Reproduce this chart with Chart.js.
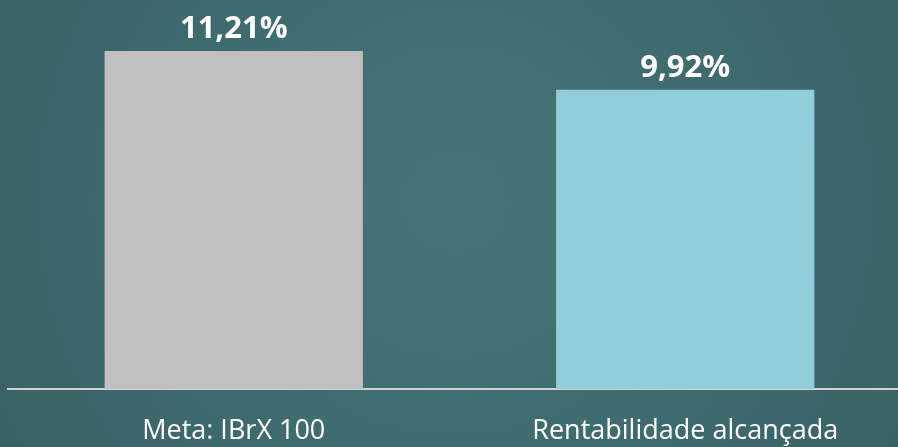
<!DOCTYPE html>
<html>
<head>
<meta charset="utf-8">
<script src="https://cdn.jsdelivr.net/npm/chart.js@4"></script>
<style>
  html, body { margin: 0; padding: 0; overflow: hidden; width: 898px; height: 447px; background: #3d6a6e; }
  #wrap { position: relative; width: 911px; height: 447px; }
</style>
</head>
<body>
<div id="wrap"><canvas id="c" width="911" height="447"></canvas></div>
<script>
const categories = ["Meta: IBrX 100", "Rentabilidade alcançada"];
const values = [11.21, 9.92];
const valueLabels = ["11,21%", "9,92%"];
const barColors = ["#c0c0c0", "#92cddc"];

const bgPlugin = {
  id: 'bg',
  beforeDraw(chart) {
    const ctx = chart.ctx, w = chart.width, h = chart.height;
    ctx.save();
    const g = ctx.createRadialGradient(w * 0.5, h * 0.45, 20, w * 0.5, h * 0.45, w * 0.65);
    g.addColorStop(0, '#457579');
    g.addColorStop(1, '#385f62');
    ctx.fillStyle = g;
    ctx.fillRect(0, 0, w, h);
    ctx.restore();
  }
};

const labelPlugin = {
  id: 'vlabels',
  afterDatasetsDraw(chart) {
    const ctx = chart.ctx;
    const meta = chart.getDatasetMeta(0);
    const xs = chart.scales.x;
    const area = chart.chartArea;
    ctx.save();
    ctx.fillStyle = '#ffffff';
    ctx.textAlign = 'center';
    ctx.textBaseline = 'alphabetic';
    ctx.font = 'bold 31px "Open Sans", sans-serif';
    meta.data.forEach((bar, i) => {
      ctx.fillText(valueLabels[i], bar.x, bar.y - 13);
    });
    ctx.font = '27px "Open Sans", sans-serif';
    categories.forEach((c, i) => {
      ctx.fillText(c, xs.getPixelForTick(i), area.bottom + 50);
    });
    ctx.restore();
  }
};

new Chart(document.getElementById('c'), {
  type: 'bar',
  data: {
    labels: categories,
    datasets: [{
      data: values,
      backgroundColor: barColors,
      borderWidth: 0,
      barPercentage: 0.572,
      categoryPercentage: 1.0
    }]
  },
  options: {
    responsive: false,
    animation: false,
    maintainAspectRatio: false,
    layout: { padding: { left: 8, right: 0, top: 0, bottom: 58 } },
    plugins: { legend: { display: false }, tooltip: { enabled: false } },
    scales: {
      x: {
        grid: { display: false, drawTicks: false },
        border: { display: true, color: '#d2d2d2', width: 2 },
        ticks: { display: false }
      },
      y: {
        display: false,
        min: 0,
        max: 12.9
      }
    }
  },
  plugins: [bgPlugin, labelPlugin]
});
</script>
</body>
</html>
